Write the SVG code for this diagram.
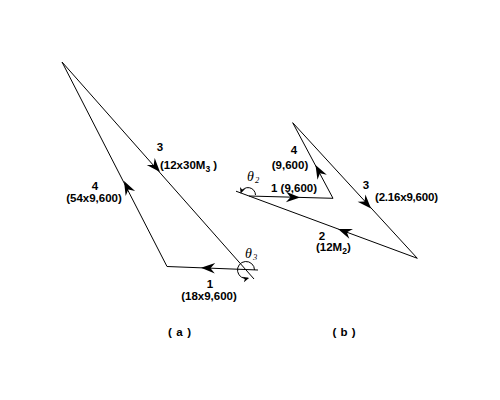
<svg xmlns="http://www.w3.org/2000/svg" xmlns:xlink="http://www.w3.org/1999/xlink" width="500" height="400" viewBox="0 0 500 400">
<style>
.ln{stroke:#000;stroke-width:1;fill:none}
.t{font-family:"Liberation Sans",Arial,sans-serif;font-size:11.5px;font-weight:bold;fill:#000}
.th{font-family:"Liberation Serif","Times New Roman",serif;font-style:italic;font-size:14px;fill:#000}
.sub{font-size:8.5px}
</style>
<defs>
<path id="ah" d="M0,0 L-14,-5.3 L-9.5,0 L-14,5.3 Z" fill="#000"/>
<path id="ahs" d="M0,0 L-6,-2.8 L-4.3,0 L-6,2.8 Z" fill="#000"/>
</defs>
<rect width="500" height="400" fill="#fff"/>
<g id="connectors">
<!-- (a) -->
<line class="ln" x1="62" y1="62" x2="254" y2="279"/>
<line class="ln" x1="167" y1="266.5" x2="258" y2="270"/>
<line class="ln" x1="167" y1="266.5" x2="62" y2="62"/>
<use xlink:href="#ah" href="#ah" transform="translate(160,172) rotate(48.5)"/>
<use xlink:href="#ah" href="#ah" transform="translate(124,181) rotate(-117.1)"/>
<use xlink:href="#ah" href="#ah" transform="translate(201,267.8) rotate(182)"/>
<path class="ln" d="M254.5,270 A8.5,8.5 0 1 0 248.2,278.2"/>
<use xlink:href="#ahs" href="#ahs" transform="translate(249,278) rotate(-15)"/>
<!-- (b) -->
<line class="ln" x1="249" y1="196" x2="333" y2="198.3"/>
<line class="ln" x1="333" y1="198.3" x2="292.7" y2="122.7"/>
<line class="ln" x1="292.7" y1="122.7" x2="417.3" y2="258.3"/>
<line class="ln" x1="417.3" y1="258.3" x2="236" y2="191.2"/>
<use xlink:href="#ah" href="#ah" transform="translate(300,197.4) rotate(1.6)"/>
<use xlink:href="#ah" href="#ah" transform="translate(315.5,165) rotate(-118.2)"/>
<use xlink:href="#ah" href="#ah" transform="translate(371,208.5) rotate(47.4)"/>
<use xlink:href="#ah" href="#ah" transform="translate(338,229) rotate(200.3)"/>
<path class="ln" d="M255.5,195 A7.5,7.5 0 0 0 241,192.4"/>
<use xlink:href="#ahs" href="#ahs" transform="translate(240.6,193.5) rotate(110)"/>
</g>
<g id="labels-a">
<text class="t" x="160" y="151" text-anchor="middle">3</text>
<text class="t" x="160" y="169">(12x30M<tspan class="sub" dy="3">3</tspan><tspan dy="-3"> )</tspan></text>
<text class="t" x="95" y="190" text-anchor="middle">4</text>
<text class="t" x="94" y="202" text-anchor="middle">(54x9,600)</text>
<text class="t" x="210" y="288" text-anchor="middle">1</text>
<text class="t" x="209" y="300" text-anchor="middle">(18x9,600)</text>
<text class="th" x="245" y="258">θ<tspan class="sub" dx="1" dy="2">3</tspan></text>
<text class="t" x="179.5" y="336" text-anchor="middle" textLength="23" lengthAdjust="spacing">( a )</text>
</g>
<g id="labels-b">
<text class="t" x="294" y="154" text-anchor="middle">4</text>
<text class="t" x="290" y="169" text-anchor="middle">(9,600)</text>
<text class="t" x="271" y="192">1 (9,600)</text>
<text class="t" x="366" y="189" text-anchor="middle">3</text>
<text class="t" x="375" y="201" textLength="63" lengthAdjust="spacing">(2.16x9,600)</text>
<text class="t" x="322" y="240" text-anchor="middle">2</text>
<text class="t" x="316" y="251">(12M<tspan class="sub" dy="3">2</tspan><tspan dy="-3">)</tspan></text>
<text class="th" x="247" y="181">θ<tspan class="sub" dx="1" dy="2">2</tspan></text>
<text class="t" x="344" y="336" text-anchor="middle" textLength="23" lengthAdjust="spacing">( b )</text>
</g>
</svg>
